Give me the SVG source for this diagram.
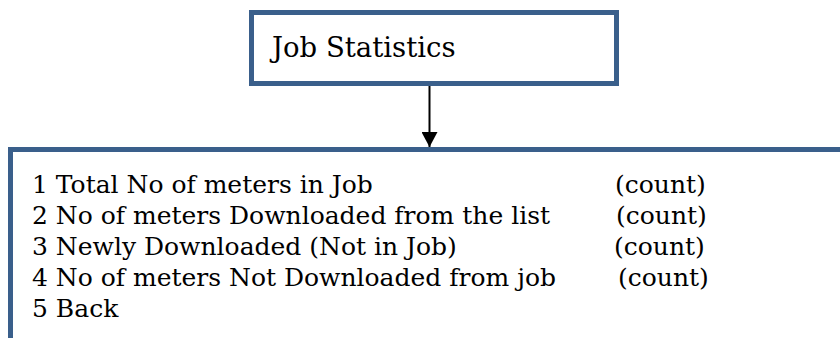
<svg xmlns="http://www.w3.org/2000/svg" width="840" height="338" viewBox="0 0 840 338">
<style>
.box{fill:#ffffff;stroke:#3A5F8B;stroke-width:5}
.t{font-family:"DejaVu Serif","Liberation Serif",serif;font-size:25px;fill:#000000}
.h{font-size:27.5px}
.conn{stroke:#000000;stroke-width:2;fill:none}
</style>
<defs>
<marker id="ah" markerWidth="8" markerHeight="8" refX="7.5" refY="4" orient="auto" markerUnits="strokeWidth">
<path d="M0,0 L7.5,4 L0,8 Z" fill="#000000"/>
</marker>
</defs>
<rect width="840" height="338" fill="#ffffff"/>
<g id="job-statistics">
<rect class="box" x="251.5" y="12.5" width="365" height="71"/>
<text class="t h" x="272" y="57">Job Statistics</text>
</g>
<g id="statistics-menu">
<rect class="box" x="10.5" y="149.5" width="900" height="300"/>
<text class="t" x="32" y="193">1 Total No of meters in Job</text>
<text class="t" x="32" y="224">2 No of meters Downloaded from the list</text>
<text class="t" x="32" y="255">3 Newly Downloaded (Not in Job)</text>
<text class="t" x="32" y="286">4 No of meters Not Downloaded from job</text>
<text class="t" x="32" y="317">5 Back</text>
<text class="t" x="615" y="193">(count)</text>
<text class="t" x="616" y="224">(count)</text>
<text class="t" x="614" y="255">(count)</text>
<text class="t" x="618" y="286">(count)</text>
</g>
<g id="connectors">
<line class="conn" x1="429.5" y1="86" x2="429.5" y2="147" marker-end="url(#ah)"/>
</g>
</svg>
